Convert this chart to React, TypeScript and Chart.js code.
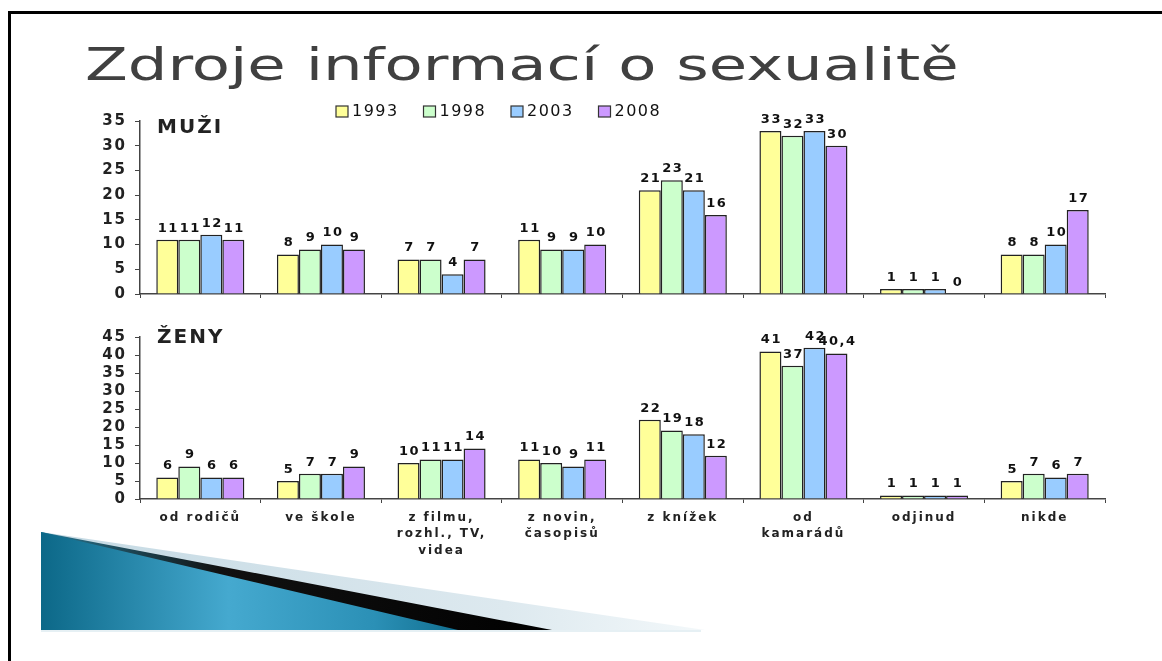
import React, { useEffect, useRef } from 'react';
import { Chart, registerables } from 'chart.js';

Chart.register(...registerables);

const categories: (string | string[])[] = [
  'od rodičů',
  've škole',
  ['z filmu,', 'rozhl., TV,', 'videa'],
  ['z novin,', 'časopisů'],
  'z knížek',
  ['od', 'kamarádů'],
  'odjinud',
  'nikde',
];
const years = ['1993', '1998', '2003', '2008'];
const seriesColors = ['#ffff99', '#ccffcc', '#99ccff', '#cc99ff'];

const men1993 = [11, 8, 7, 11, 21, 33, 1, 8];
const men1998 = [11, 9, 7, 9, 23, 32, 1, 8];
const men2003 = [12, 10, 4, 9, 21, 33, 1, 10];
const men2008 = [11, 9, 7, 10, 16, 30, 0, 17];

const women1993 = [6, 5, 10, 11, 22, 41, 1, 5];
const women1998 = [9, 7, 11, 10, 19, 37, 1, 7];
const women2003 = [6, 7, 11, 9, 18, 42, 1, 6];
const women2008 = [6, 9, 14, 11, 12, 40.4, 1, 7];

const menMax = 35;
const womenMax = 45;
const tickStep = 5;

const FONT = '"DejaVu Sans", Verdana, sans-serif';

const fmt = (v: number) => String(v).replace('.', ',');

const spacingPlugin = {
  id: 'spacing',
  beforeLayout(chart: any) {
    chart.ctx.letterSpacing = '2px';
  },
  beforeDraw(chart: any) {
    chart.ctx.letterSpacing = '2px';
  },
};

const valueLabelPlugin = {
  id: 'valueLabels',
  afterDatasetsDraw(chart: any) {
    const ctx = chart.ctx;
    ctx.save();
    ctx.letterSpacing = '1.5px';
    ctx.font = `bold 13px ${FONT}`;
    ctx.fillStyle = '#111';
    ctx.textAlign = 'center';
    ctx.textBaseline = 'bottom';
    chart.data.datasets.forEach((ds: any, i: number) => {
      const meta = chart.getDatasetMeta(i);
      meta.data.forEach((bar: any, j: number) => {
        ctx.fillText(fmt(ds.data[j]), bar.x + 1, bar.y - 5);
      });
    });
    ctx.restore();
  },
};

const panelPlugin = {
  id: 'panel',
  afterDraw(chart: any, _args: any, opts: any) {
    const ctx = chart.ctx;
    const area = chart.chartArea;
    ctx.save();
    ctx.letterSpacing = '2px';
    ctx.font = `bold 20px ${FONT}`;
    ctx.fillStyle = '#222';
    ctx.textAlign = 'left';
    ctx.textBaseline = 'middle';
    ctx.fillText(opts.text, area.left + 17, area.top + opts.dy);
    if (opts.legend) {
      ctx.letterSpacing = '1.5px';
      ctx.font = `16px ${FONT}`;
      const y = area.top - 9;
      chart.data.datasets.forEach((ds: any, i: number) => {
        const x = area.left + 196 + i * 87.5;
        ctx.fillStyle = ds.backgroundColor;
        ctx.fillRect(x, y - 6, 12, 11);
        ctx.strokeStyle = '#333';
        ctx.lineWidth = 1.2;
        ctx.strokeRect(x, y - 6, 12, 11);
        ctx.fillStyle = '#111';
        ctx.fillText(ds.label, x + 16, y);
      });
    }
    ctx.restore();
  },
};

type PanelProps = {
  series: number[][];
  max: number;
  top: number;
  height: number;
  padTop: number;
  xHeight: number;
  showX: boolean;
  label: string;
  labelDy: number;
  legend: boolean;
};

function Panel(p: PanelProps) {
  const ref = useRef<HTMLCanvasElement>(null);
  useEffect(() => {
    if (!ref.current) return;
    const chart = new Chart(ref.current, {
      type: 'bar',
      data: {
        labels: categories as any,
        datasets: years.map((y, i) => ({
          label: y,
          data: p.series[i],
          backgroundColor: seriesColors[i],
          borderColor: '#222',
          borderWidth: 1.5,
          categoryPercentage: 0.73,
          barPercentage: 1,
        })),
      },
      options: {
        animation: false,
        responsive: true,
        maintainAspectRatio: false,
        layout: { padding: { left: 80, right: 57, top: p.padTop, bottom: 0 } },
        plugins: {
          legend: { display: false },
          tooltip: { enabled: false },
          panel: { text: p.label, dy: p.labelDy, legend: p.legend },
        } as any,
        scales: {
          x: {
            grid: { drawOnChartArea: false, drawTicks: true, tickLength: 4, color: '#444', offset: true },
            border: { display: true, color: '#444', width: 1.5 },
            ticks: {
              display: p.showX,
              autoSkip: false,
              maxRotation: 0,
              padding: 6,
              color: '#222',
              font: { family: FONT, size: 12, weight: 'bold', lineHeight: 1.4 },
            },
            afterFit(s: any) {
              s.height = p.xHeight;
            },
          },
          y: {
            min: 0,
            max: p.max,
            ticks: {
              stepSize: tickStep,
              autoSkip: false,
              padding: 8,
              color: '#222',
              font: { family: FONT, size: 15, weight: 'bold' },
            },
            grid: { drawOnChartArea: false, drawTicks: true, tickLength: 5, color: '#444' },
            border: { display: true, color: '#444', width: 1.5 },
            afterFit(s: any) {
              s.width = 60;
            },
          },
        },
      } as any,
      plugins: [spacingPlugin, valueLabelPlugin, panelPlugin],
    });
    return () => chart.destroy();
  }, []);
  return (
    <div style={{ position: 'absolute', left: 0, top: p.top, width: 1162, height: p.height }}>
      <canvas ref={ref} />
    </div>
  );
}

export default function App() {
  return (
    <div style={{ position: 'absolute', left: 0, top: 0, width: 1162, height: 661, background: '#fff', overflow: 'hidden' }}>
      <div
        style={{
          position: 'absolute',
          left: 8,
          top: 11,
          width: 1170,
          height: 700,
          borderTop: '3px solid #000',
          borderLeft: '3px solid #000',
        }}
      />
      <svg width={1162} height={661} style={{ position: 'absolute', left: 0, top: 0 }}>
        <defs>
          <linearGradient id="lightG" x1="41" y1="0" x2="705" y2="0" gradientUnits="userSpaceOnUse">
            <stop offset="0" stopColor="#c4d9e3" />
            <stop offset="0.7" stopColor="#dde9ef" />
            <stop offset="1" stopColor="#f3f8fa" />
          </linearGradient>
          <linearGradient id="darkG" x1="41" y1="0" x2="552" y2="0" gradientUnits="userSpaceOnUse">
            <stop offset="0" stopColor="#2a7a96" />
            <stop offset="0.35" stopColor="#111" />
            <stop offset="1" stopColor="#000" />
          </linearGradient>
          <linearGradient id="blueG" x1="41" y1="0" x2="458" y2="0" gradientUnits="userSpaceOnUse">
            <stop offset="0" stopColor="#0c6888" />
            <stop offset="0.45" stopColor="#45a9cf" />
            <stop offset="0.8" stopColor="#2b90b6" />
            <stop offset="1" stopColor="#116f90" />
          </linearGradient>
        </defs>
        <polygon points="41,532 705,630 41,630" fill="url(#lightG)" />
        <polygon points="41,532 552,630 41,630" fill="url(#darkG)" />
        <polygon points="41,532 458,630 41,630" fill="url(#blueG)" />
        <rect x={41} y={630} width={660} height={2} fill="#e6f0f4" />
      </svg>
      <div
        style={{
          position: 'absolute',
          left: 85,
          top: 43,
          fontFamily: FONT,
          fontSize: 44,
          lineHeight: '44px',
          color: '#404040',
          whiteSpace: 'nowrap',
          transform: 'scaleX(1.42)',
          transformOrigin: 'left center',
        }}
      >
        Zdroje informací o sexualitě
      </div>
      <Panel
        series={[men1993, men1998, men2003, men2008]}
        max={menMax}
        top={95}
        height={216}
        padTop={26}
        xHeight={10}
        showX={false}
        label="MUŽI"
        labelDy={7}
        legend={true}
      />
      <Panel
        series={[women1993, women1998, women2003, women2008]}
        max={womenMax}
        top={310}
        height={259}
        padTop={27}
        xHeight={70}
        showX={true}
        label="ŽENY"
        labelDy={1}
        legend={false}
      />
    </div>
  );
}
